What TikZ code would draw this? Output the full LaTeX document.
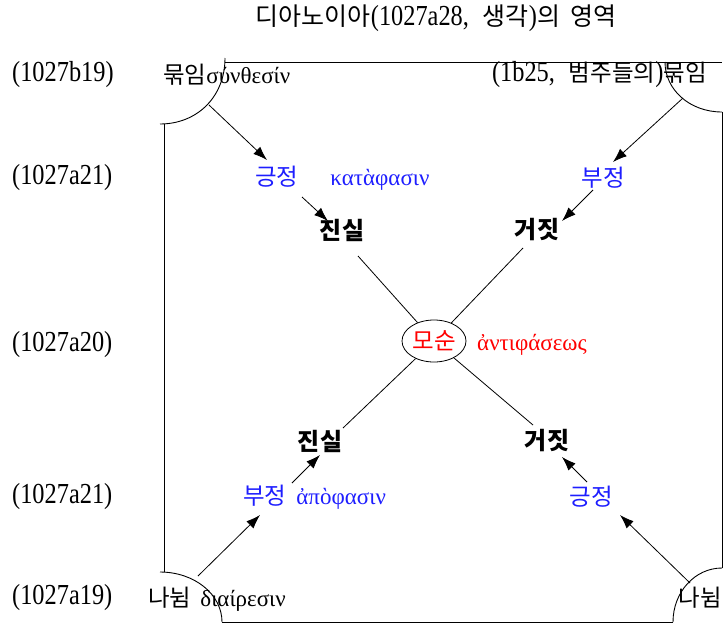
\documentclass[tikz,border=0pt]{standalone}
\usepackage{fontspec}
\setmainfont{Liberation Serif}
\newfontfamily\krf{Noto Sans CJK KR}
\newfontfamily\numf[FakeStretch=0.84]{Liberation Serif}
\usetikzlibrary{arrows.meta,shapes.geometric}
\definecolor{lblue}{RGB}{30,30,255}
\definecolor{lred}{RGB}{255,0,0}
\newcommand\krt{\krf\fontsize{23.5}{26}\selectfont}
\newcommand\krh{\krf\fontsize{25}{28}\selectfont}
\newcommand\krb{\krf\bfseries\fontsize{24}{27}\selectfont}
\newcommand\numt{\numf\fontsize{29}{32}\selectfont}
\newcommand\grk{\rmfamily\fontsize{23}{26}\selectfont}
\begin{document}
\begin{tikzpicture}[x=1pt,y=-1pt,
  txt/.style={inner sep=0pt},
  lft/.style={txt,anchor=west},
  num/.style={lft,font=\numt},
  arr/.style={line width=0.8pt,-{Latex[length=14pt,width=10pt]}},
  ln/.style={line width=0.8pt},
  frame/.style={line width=0.9pt}]
\useasboundingbox (0,0) rectangle (725,627);
% frame
\draw[frame] (225,62) -- (722,62);
\draw[frame] (225,58) .. controls (225,97) and (197,124) .. (160,124);
\draw[frame] (164,124) -- (164,572);
\draw[frame] (160,572) .. controls (194,572) and (222,594) .. (222,622);
\draw[frame] (222,622) -- (673,622);
\draw[frame] (673,622) .. controls (673,592) and (695,568) .. (722,568);
\draw[frame] (722,568) -- (722,112);
\draw[frame] (665,62) .. controls (665,90) and (690,112) .. (722,112);
% title and side labels
\node[txt] (title) at (436,18) {{\krh 디아노이아}{\numt(1027a28,}\hspace{14pt}{\krh 생각}{\numt)}{\krh 의\hspace{10pt}영역}};
\node[num] (l1) at (12,75) {(1027b19)};
\node[num] (l2) at (12,178) {(1027a21)};
\node[num] (l3) at (12,345) {(1027a20)};
\node[num] (l4) at (12,497) {(1027a21)};
\node[num] (l5) at (12,598) {(1027a19)};
% corner texts
\node[lft] (bindL) at (163,75) {{\krt 묶임}{\grk σύνθεσίν}};
\node[txt,anchor=east] (bindR) at (707,75) {{\numt(1b25,}\hspace{14pt}{\krt 범주들의}{\numt)}{\krt 묶임}};
\node[lft] (divL) at (148,599) {{\krt 나뉨}\hspace{9pt}{\grk διαίρεσιν}};
\node[txt] (divR) at (700,598) {\krt 나뉨};
% middle texts
\node[lft,text=lblue] (posT) at (255,178) {{\krt 긍정}\hspace{32pt}{\grk κατὰφασιν}};
\node[txt,text=lblue] (negT) at (603,178) {\krt 부정};
\node[txt] (trueT) at (342,230) {\krb 진실};
\node[txt] (falseT) at (537,230) {\krb 거짓};
\node[draw,ellipse,line width=0.8pt,minimum width=64pt,minimum height=42pt,inner sep=0pt,text=lred] (contra) at (434,341) {\krt 모순};
\node[lft,text=lred] (contraG) at (477,345) {\grk ἀντιφάσεως};
\node[txt] (trueB) at (320,441) {\krb 진실};
\node[txt] (falseB) at (547,441) {\krb 거짓};
\node[lft,text=lblue] (negB) at (243,497) {{\krt 부정}\hspace{10pt}{\grk ἀπὸφασιν}};
\node[txt,text=lblue] (posB) at (591,497) {\krt 긍정};
% connector end points
\coordinate (a1s) at (209,105); \coordinate (a1e) at (267,160);
\coordinate (a2s) at (302,197); \coordinate (a2e) at (328,221);
\coordinate (a3s) at (683,98);  \coordinate (a3e) at (613,162);
\coordinate (a4s) at (593,190); \coordinate (a4e) at (562,221);
\coordinate (l1s) at (358,256);
\coordinate (l2s) at (523,248);
\coordinate (l3e) at (343,428);
\coordinate (l4e) at (533,425);
\coordinate (a5s) at (292,483); \coordinate (a5e) at (320,455);
\coordinate (a6s) at (587,482); \coordinate (a6e) at (562,457);
\coordinate (a7s) at (198,576); \coordinate (a7e) at (260,515);
\coordinate (a8s) at (690,583); \coordinate (a8e) at (620,515);
% connectors
\draw[arr] (a1s) -- (a1e);
\draw[arr] (a2s) -- (a2e);
\draw[arr] (a3s) -- (a3e);
\draw[arr] (a4s) -- (a4e);
\draw[ln] (l1s) -- (contra);
\draw[ln] (l2s) -- (contra);
\draw[ln] (contra) -- (l3e);
\draw[ln] (contra) -- (l4e);
\draw[arr] (a5s) -- (a5e);
\draw[arr] (a6s) -- (a6e);
\draw[arr] (a7s) -- (a7e);
\draw[arr] (a8s) -- (a8e);
\end{tikzpicture}
\end{document}
